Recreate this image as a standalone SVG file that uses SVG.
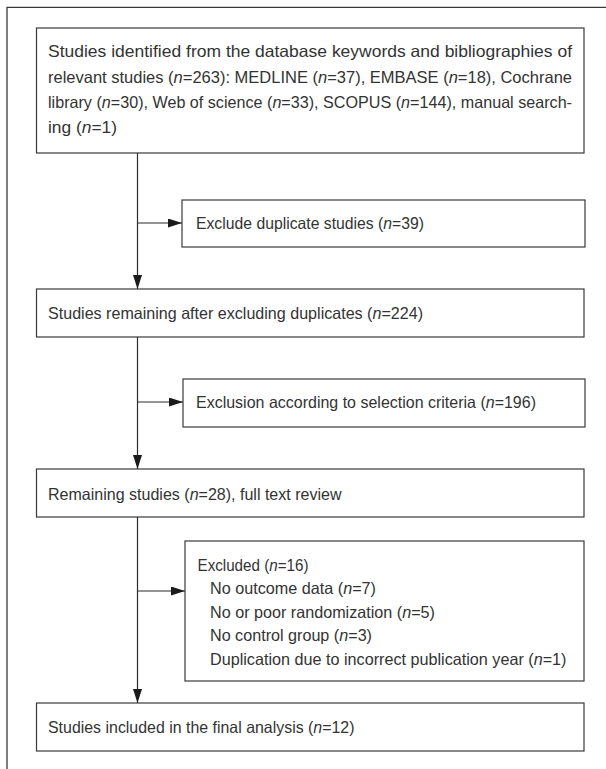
<svg xmlns="http://www.w3.org/2000/svg" width="606" height="769" viewBox="0 0 606 769">
<style>
.box{fill:#ffffff;stroke:#3a3a3a;stroke-width:1.2}
.frame{fill:none;stroke:#3a3a3a;stroke-width:1.3}
.conn{fill:none;stroke:#2a2a2a;stroke-width:1.2}
text{font-family:"Liberation Sans","Arial",sans-serif;font-size:16.5px;fill:#333333}
.i{font-style:italic}
</style>
<defs>
<marker id="arr" markerUnits="userSpaceOnUse" markerWidth="14" markerHeight="9" refX="14" refY="4.5" orient="auto">
<path d="M0,0 L14,4.5 L0,9 z" fill="#1a1a1a"/>
</marker>
</defs>
<rect width="606" height="769" fill="#ffffff"/>
<path class="frame" d="M7,769 V7.3 H606"/>
<g id="connectors">
<path class="conn" d="M137.5,153 V289" marker-end="url(#arr)"/>
<path class="conn" d="M137.5,223 H182" marker-end="url(#arr)"/>
<path class="conn" d="M137.5,337 V469" marker-end="url(#arr)"/>
<path class="conn" d="M137.5,402 H183" marker-end="url(#arr)"/>
<path class="conn" d="M137.5,517 V703" marker-end="url(#arr)"/>
<path class="conn" d="M137.5,591 H185" marker-end="url(#arr)"/>
</g>
<g id="identified">
<rect class="box" x="36.5" y="28" width="547.5" height="125"/>
<text x="48" y="57.3" textLength="524" lengthAdjust="spacingAndGlyphs">Studies identified from the database keywords and bibliographies of</text>
<text x="48" y="82.6" textLength="524" lengthAdjust="spacingAndGlyphs">relevant studies (<tspan class="i">n</tspan>=263): MEDLINE (<tspan class="i">n</tspan>=37), EMBASE (<tspan class="i">n</tspan>=18), Cochrane</text>
<text x="48" y="107.9" textLength="524" lengthAdjust="spacingAndGlyphs">library (<tspan class="i">n</tspan>=30), Web of science (<tspan class="i">n</tspan>=33), SCOPUS (<tspan class="i">n</tspan>=144), manual search-</text>
<text x="48" y="133.2" textLength="69" lengthAdjust="spacingAndGlyphs">ing (<tspan class="i">n</tspan>=1)</text>
</g>
<g id="duplicates">
<rect class="box" x="182" y="200" width="403" height="47"/>
<text x="196" y="229" textLength="228" lengthAdjust="spacingAndGlyphs">Exclude duplicate studies (<tspan class="i">n</tspan>=39)</text>
</g>
<g id="remaining1">
<rect class="box" x="36.5" y="289" width="547.5" height="48"/>
<text x="48" y="319" textLength="375" lengthAdjust="spacingAndGlyphs">Studies remaining after excluding duplicates (<tspan class="i">n</tspan>=224)</text>
</g>
<g id="criteria">
<rect class="box" x="183" y="379" width="402" height="48"/>
<text x="196" y="408" textLength="340" lengthAdjust="spacingAndGlyphs">Exclusion according to selection criteria (<tspan class="i">n</tspan>=196)</text>
</g>
<g id="remaining2">
<rect class="box" x="36.5" y="469" width="547.5" height="48"/>
<text x="48" y="500" textLength="293.5" lengthAdjust="spacingAndGlyphs">Remaining studies (<tspan class="i">n</tspan>=28), full text review</text>
</g>
<g id="excluded">
<rect class="box" x="185" y="541" width="399" height="140"/>
<text x="197.5" y="570.7" textLength="111" lengthAdjust="spacingAndGlyphs">Excluded (<tspan class="i">n</tspan>=16)</text>
<text x="210" y="594.2" textLength="166" lengthAdjust="spacingAndGlyphs">No outcome data (<tspan class="i">n</tspan>=7)</text>
<text x="210" y="617.7" textLength="225" lengthAdjust="spacingAndGlyphs">No or poor randomization (<tspan class="i">n</tspan>=5)</text>
<text x="210" y="641.2" textLength="162" lengthAdjust="spacingAndGlyphs">No control group (<tspan class="i">n</tspan>=3)</text>
<text x="210" y="664.7" textLength="356.5" lengthAdjust="spacingAndGlyphs">Duplication due to incorrect publication year (<tspan class="i">n</tspan>=1)</text>
</g>
<g id="final">
<rect class="box" x="36.5" y="703" width="547.5" height="48"/>
<text x="48" y="733" textLength="306.5" lengthAdjust="spacingAndGlyphs">Studies included in the final analysis (<tspan class="i">n</tspan>=12)</text>
</g>
</svg>
